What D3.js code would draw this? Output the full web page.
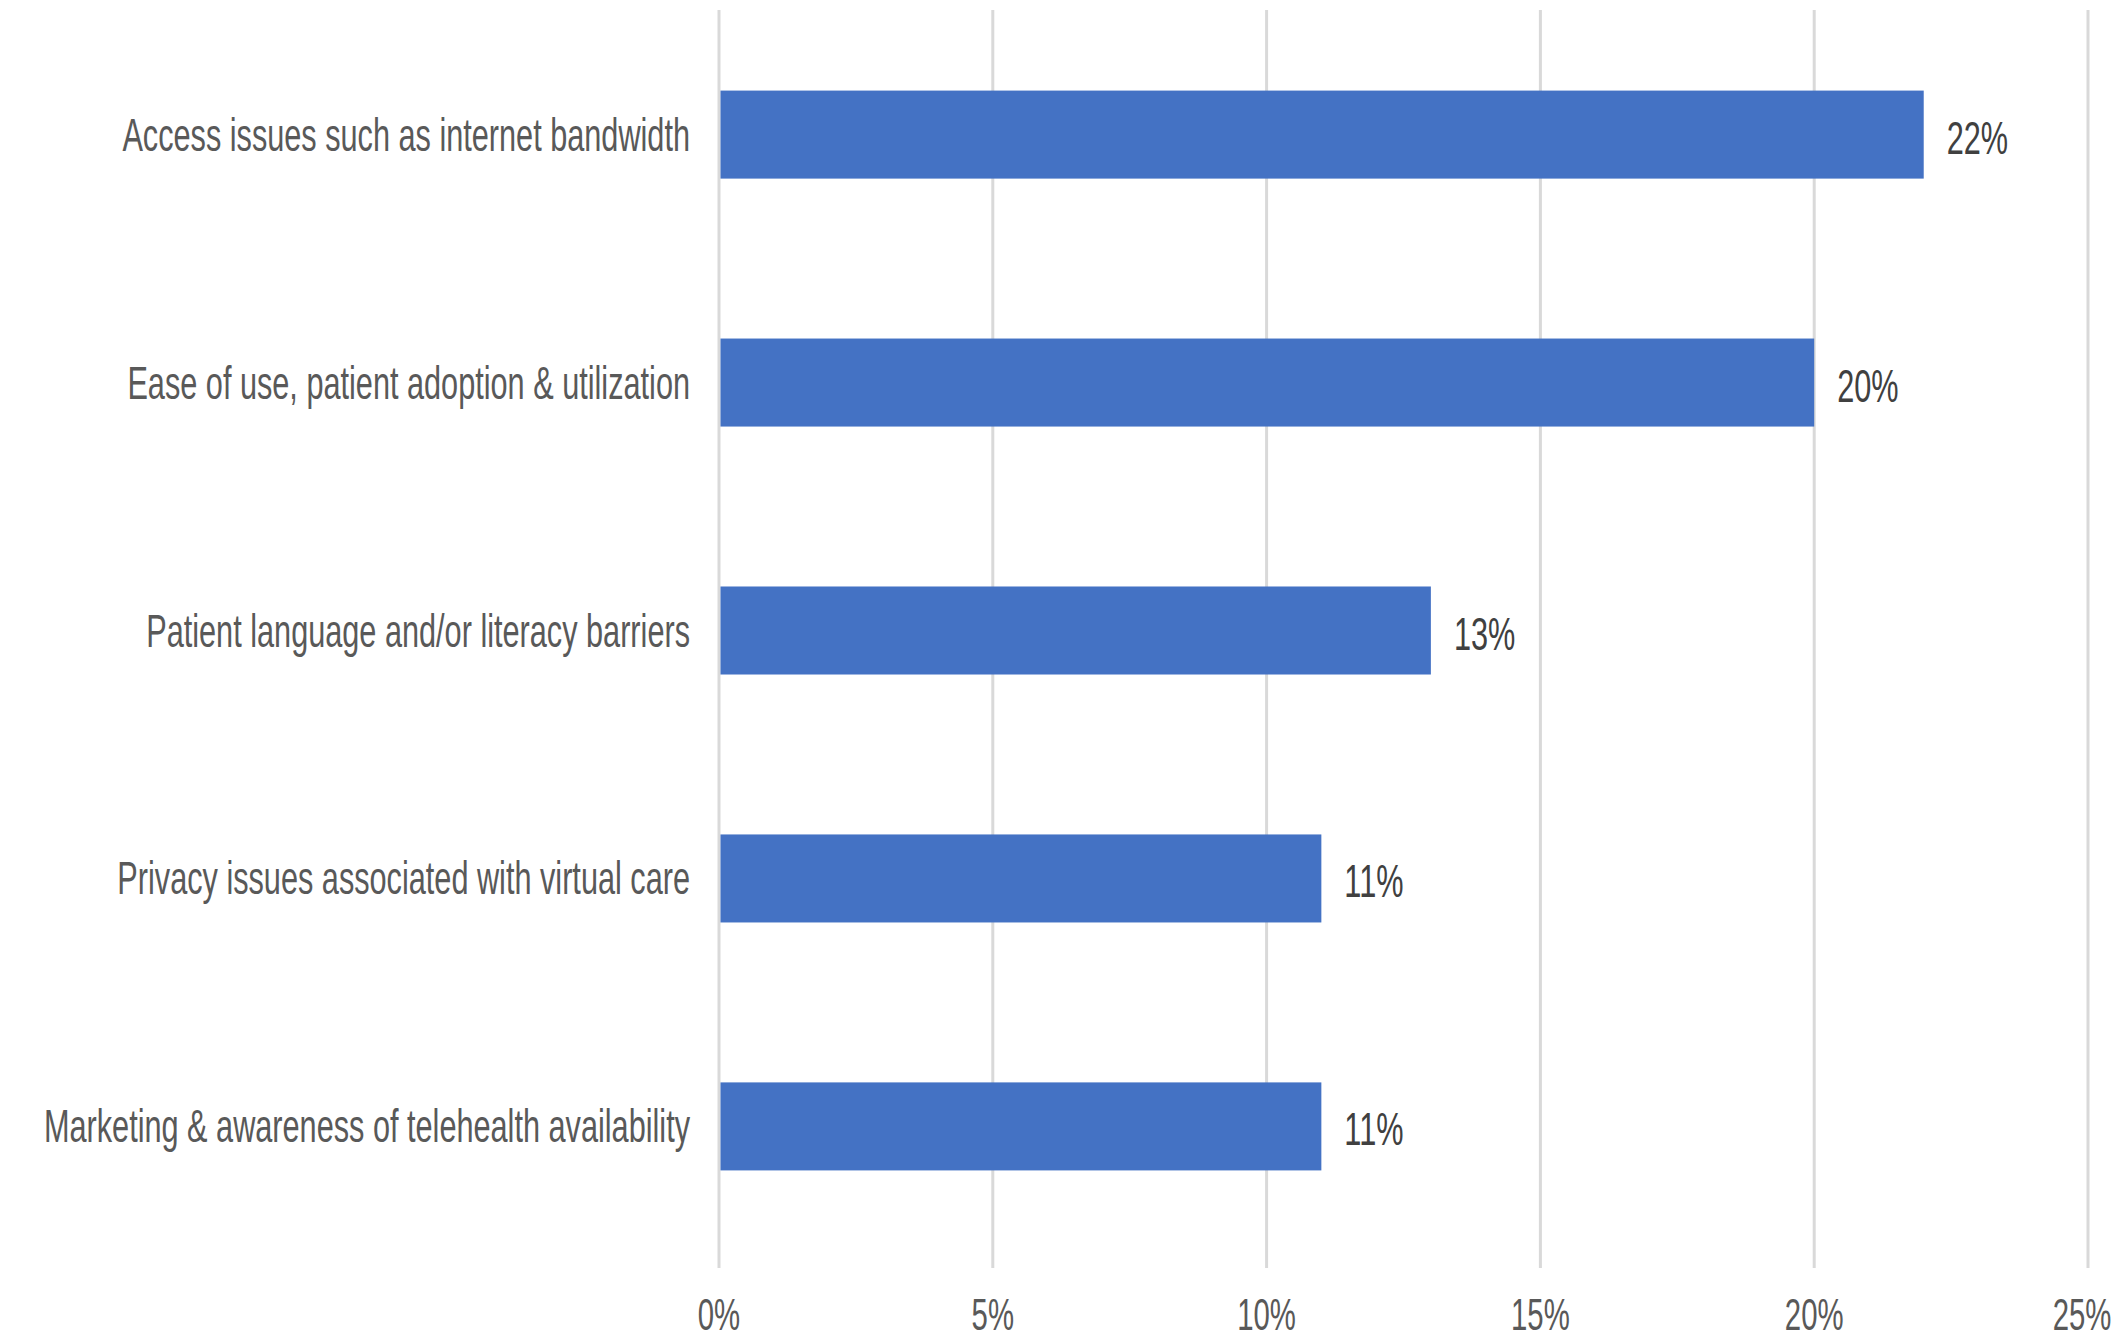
<!DOCTYPE html>
<html><head><meta charset="utf-8">
<script src="https://cdn.jsdelivr.net/npm/d3@7"></script>
<style>html,body{margin:0;padding:0;background:#fff;}svg{display:block;}</style>
</head><body>
<svg id="c" width="2120" height="1341"></svg>
<script>
const categories = [
  "Access issues such as internet bandwidth",
  "Ease of use, patient adoption & utilization",
  "Patient language and/or literacy barriers",
  "Privacy issues associated with virtual care",
  "Marketing & awareness of telehealth availability"
];
const values = [0.22, 0.20, 0.13, 0.11, 0.11];
const valueLabels = ["22%", "20%", "13%", "11%", "11%"];
const tickValues = [0, 0.05, 0.10, 0.15, 0.20, 0.25];
const tickLabels = ["0%", "5%", "10%", "15%", "20%", "25%"];

(function () {
const svg = d3.select("#c");
const mL = 719, mR = 2088, mT = 10, mB = 1268;
const x = d3.scaleLinear().domain([0, 0.25]).range([mL, mR]);
const y = d3.scaleBand().domain(categories).range([mT, 1251]).paddingInner(0.645).paddingOuter(0.325);

const font = "'Liberation Sans Narrow', 'Liberation Sans', sans-serif";
const fs = 46;
const sx = 0.667;

svg.append("g").selectAll("line").data(tickValues).join("line")
  .attr("x1", d => x(d)).attr("x2", d => x(d))
  .attr("y1", mT).attr("y2", mB)
  .attr("stroke", "#d9d9d9").attr("stroke-width", 3);

svg.append("g").selectAll("rect").data(values).join("rect")
  .attr("x", x(0) + 1.5).attr("y", (d, i) => y(categories[i]))
  .attr("width", d => x(d) - x(0) - 1.5).attr("height", y.bandwidth())
  .attr("fill", "#4472C4");

function txt(g, px, py, s, anchor, color, size) {
  return g.append("text")
    .attr("transform", `translate(${px},${py}) scale(${sx},1)`)
    .attr("text-anchor", anchor)
    .attr("font-family", font).attr("font-size", size || fs)
    .attr("fill", color).text(s);
}

const gc = svg.append("g");
categories.forEach((c, i) => {
  txt(gc, 690, y(c) + y.bandwidth() / 2 + 16, c, "end", "#595959");
});

const gv = svg.append("g");
values.forEach((v, i) => {
  txt(gv, x(v) + 23, y(categories[i]) + y.bandwidth() / 2 + 19, valueLabels[i], "start", "#404040");
});

const gt = svg.append("g");
tickValues.forEach((t, i) => {
  txt(gt, x(t) - (i === tickValues.length - 1 ? 6 : 0), 1330, tickLabels[i], "middle", "#595959", 44);
});
})();
</script>
</body></html>
